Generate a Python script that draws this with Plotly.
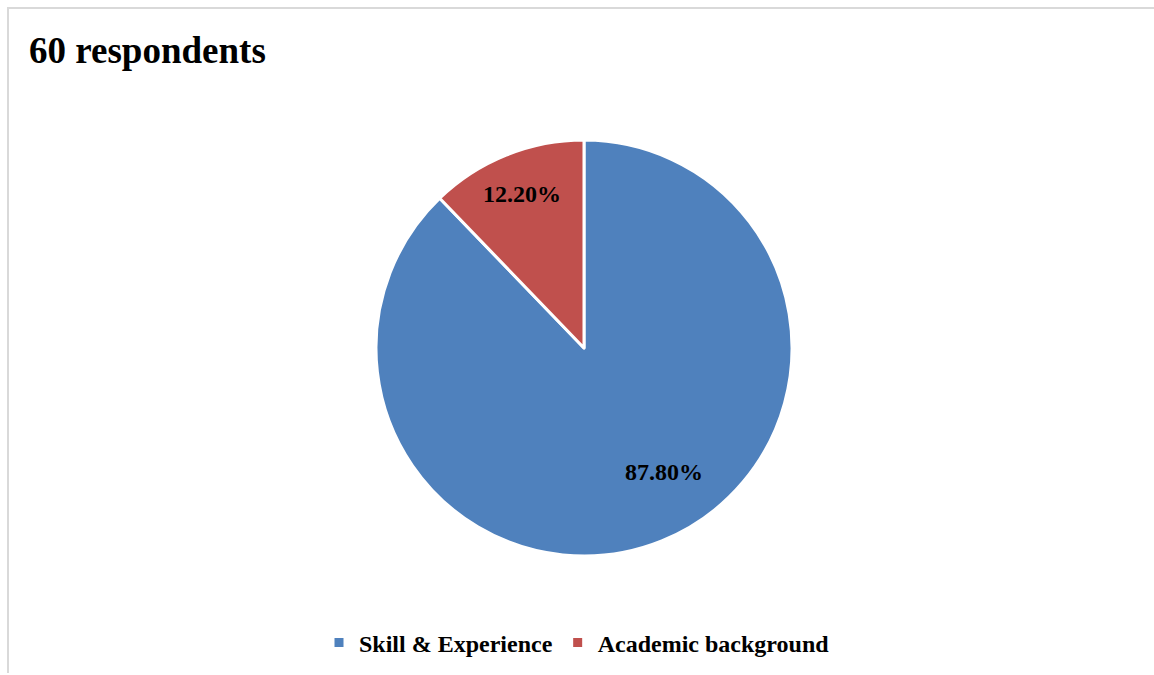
import math
import plotly.graph_objects as go

# Survey result: share of respondents by qualification basis
categories = ["Skill & Experience", "Academic background"]
shares = [87.80, 12.20]
colors = ["#4F81BD", "#C0504D"]
label_text = [f"{v:.2f}%" for v in shares]

W, H = 1154, 675
cx, cy, r = 584, 348, 208

# data-label placement: radial fraction and angular nudge per slice
label_radius = [0.71, 0.80]
label_nudge_deg = [-11, 0]

fig = go.Figure(
    go.Pie(
        labels=categories,
        values=shares,
        textinfo="none",
        marker=dict(colors=colors, line=dict(color="white", width=3)),
        sort=False,
        direction="clockwise",
        rotation=0,
        hoverinfo="label+percent",
        domain=dict(
            x=[(cx - r) / W, (cx + r) / W],
            y=[1 - (cy + r) / H, 1 - (cy - r) / H],
        ),
    )
)

# value labels at each slice's mid-angle (clockwise from 12 o'clock)
annotations = []
total = sum(shares)
start = 0.0
for val, txt, frac, nudge in zip(shares, label_text, label_radius, label_nudge_deg):
    mid = start + val / total * 360.0 / 2
    start += val / total * 360.0
    ang = math.radians(mid + nudge)
    px = cx + frac * r * math.sin(ang)
    py = cy - frac * r * math.cos(ang)
    annotations.append(
        dict(
            text=f"<b>{txt}</b>",
            x=px / W,
            y=1 - py / H,
            xref="paper",
            yref="paper",
            xanchor="center",
            yanchor="middle",
            showarrow=False,
            font=dict(family="Liberation Serif", size=24, color="black"),
        )
    )

annotations.append(
    dict(
        text="<b>60 respondents</b>",
        x=27 / W,
        y=1 - 50 / H,
        xref="paper",
        yref="paper",
        xanchor="left",
        yanchor="middle",
        showarrow=False,
        font=dict(family="Liberation Serif", size=37, color="black"),
    )
)

fig.update_layout(
    width=W,
    height=H,
    margin=dict(l=0, r=0, t=0, b=0),
    paper_bgcolor="white",
    plot_bgcolor="white",
    font=dict(family="Liberation Serif", color="black"),
    showlegend=True,
    legend=dict(
        orientation="h",
        x=0.5,
        xanchor="center",
        y=1 - 643 / H,
        yanchor="middle",
        font=dict(family="Liberation Serif", size=24, color="black", weight="bold"),
        itemwidth=30,
        tracegroupgap=0,
    ),
    annotations=annotations,
    shapes=[
        # chart-area frame: top and left edges
        dict(type="line", xref="paper", yref="paper",
             x0=7 / W, x1=1, y0=1 - 8 / H, y1=1 - 8 / H,
             line=dict(color="#D9D9D9", width=2)),
        dict(type="line", xref="paper", yref="paper",
             x0=8 / W, x1=8 / W, y0=1 - 8 / H, y1=1 - 673 / H,
             line=dict(color="#D9D9D9", width=2)),
    ],
)

fig.write_html("out.html")
